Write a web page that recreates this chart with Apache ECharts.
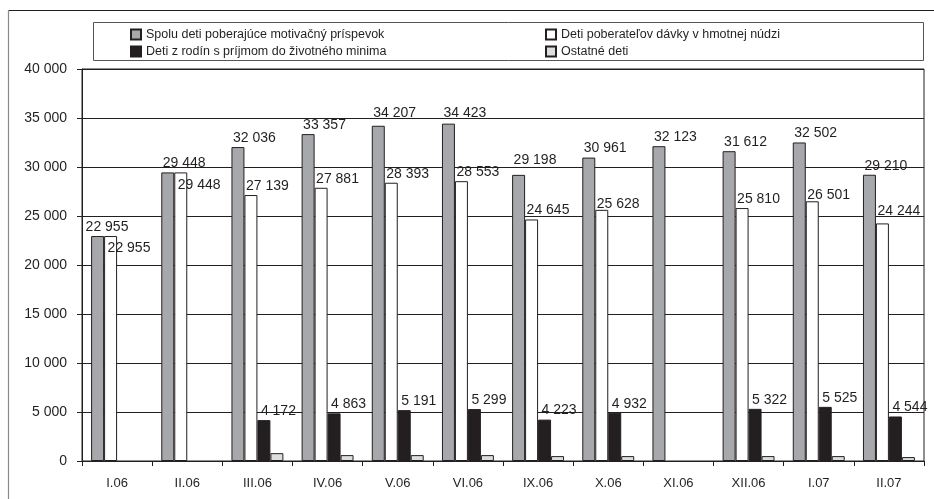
<!DOCTYPE html>
<html>
<head>
<meta charset="utf-8">
<script src="https://cdn.jsdelivr.net/npm/echarts@6/dist/echarts.min.js"></script>
<style>
  html, body { margin: 0; padding: 0; background: #fff; }
  #chart { width: 934px; height: 499px; }
</style>
</head>
<body>
<div id="chart"></div>
<script>
// Months on the category axis
const months = ['I.06', 'II.06', 'III.06', 'IV.06', 'V.06', 'VI.06', 'IX.06', 'X.06', 'XI.06', 'XII.06', 'I.07', 'II.07'];

// Series names
const nameTotal = 'Spolu deti poberajúce motivačný príspevok';
const nameNeed = 'Deti poberateľov dávky v hmotnej núdzi';
const nameMinimum = 'Deti z rodín s príjmom do životného minima';
const nameOther = 'Ostatné deti';

// Values per month (null = not reported)
const totalChildren = [22955, 29448, 32036, 33357, 34207, 34423, 29198, 30961, 32123, 31612, 32502, 29210];
const needChildren = [22955, 29448, 27139, 27881, 28393, 28553, 24645, 25628, null, 25810, 26501, 24244];
const minimumChildren = [null, null, 4172, 4863, 5191, 5299, 4223, 4932, null, 5322, 5525, 4544];
const otherChildren = [null, null, 800, 600, 600, 600, 500, 500, null, 500, 500, 400];

// Y axis ticks
const yMin = 0, yMax = 40000, yStep = 5000;

const ink = '#231f20';
const fontFamily = '"Liberation Sans", Arial, Helvetica, sans-serif';

function fmt(v) {
  return String(v).replace(/\B(?=(\d{3})+(?!\d))/g, ' ');
}

// Label offsets for crowded spots (index -> [dx, dy])
const totalLabelShift = { 0: [-12, 0], 4: [-5, -4], 5: [-5, -2], 6: [-5, -6] };
const needLabelShift = { 0: [-3, 21], 1: [-3, 22], 7: [-5, 3], 10: [-5, 3], 11: [-5, -3] };

function withLabels(values, shifts) {
  return values.map((v, i) => {
    if (v == null) return '-';
    const item = { value: v };
    if (shifts && shifts[i]) item.label = { offset: shifts[i] };
    return item;
  });
}

const valueLabel = {
  show: true,
  position: 'top',
  align: 'left',
  distance: 2,
  offset: [-5, 0],
  color: ink,
  fontSize: 14,
  fontFamily: fontFamily,
  formatter: p => fmt(p.value)
};

const barBorder = { borderColor: ink, borderWidth: 1 };

const legendCommon = {
  orient: 'vertical',
  top: 28,
  padding: 0,
  itemWidth: 10, itemHeight: 10, itemGap: 4,
  icon: 'rect',
  textStyle: { fontSize: 12.5, color: ink, fontFamily: fontFamily }
};

const chart = echarts.init(document.getElementById('chart'), null, { renderer: 'canvas' });

chart.setOption({
  animation: false,
  backgroundColor: '#fff',
  textStyle: { fontFamily: fontFamily },
  graphic: [
    // outer frame
    { type: 'line', shape: { x1: 8, y1: 10.5, x2: 934, y2: 10.5 }, style: { stroke: ink, lineWidth: 1.2 }, z: 0 },
    { type: 'line', shape: { x1: 8.5, y1: 10, x2: 8.5, y2: 499 }, style: { stroke: '#8a8a8a', lineWidth: 1.2 }, z: 0 },
    // legend frame
    { type: 'rect', shape: { x: 93.5, y: 22.5, width: 830, height: 38 }, style: { fill: 'none', stroke: '#555', lineWidth: 1 }, z: 0 }
  ],
  legend: [
    Object.assign({ data: [nameTotal, nameMinimum], left: 130 }, legendCommon),
    Object.assign({ data: [nameNeed, nameOther], left: 545 }, legendCommon)
  ],
  grid: {
    left: 82, right: 10, top: 69, bottom: 38,
    show: true, borderColor: ink, borderWidth: 1,
    containLabel: false
  },
  xAxis: {
    type: 'category',
    data: months,
    axisLine: { show: true, lineStyle: { color: ink, width: 1 } },
    axisTick: { show: true, length: 5, inside: false, alignWithLabel: false, lineStyle: { color: ink } },
    axisLabel: { color: ink, fontSize: 13, margin: 16, fontFamily: fontFamily },
    splitLine: { show: false }
  },
  yAxis: {
    type: 'value',
    min: yMin, max: yMax, interval: yStep,
    axisLine: { show: true, lineStyle: { color: ink, width: 1 } },
    axisTick: { show: true, length: 5, inside: false, lineStyle: { color: ink } },
    axisLabel: { color: ink, fontSize: 14, margin: 15, fontFamily: fontFamily, formatter: v => fmt(v) },
    splitLine: { show: true, lineStyle: { color: ink, width: 1 } }
  },
  series: [
    {
      name: nameTotal, type: 'bar',
      data: withLabels(totalChildren, totalLabelShift),
      barGap: '0%', barCategoryGap: '26%',
      itemStyle: Object.assign({ color: '#a7a8ab' }, barBorder),
      label: valueLabel
    },
    {
      name: nameNeed, type: 'bar',
      data: withLabels(needChildren, needLabelShift),
      barGap: '0%', barCategoryGap: '26%',
      itemStyle: Object.assign({ color: '#ffffff' }, barBorder),
      label: valueLabel
    },
    {
      name: nameMinimum, type: 'bar',
      data: withLabels(minimumChildren, null),
      barGap: '0%', barCategoryGap: '26%',
      itemStyle: Object.assign({ color: '#231f20' }, barBorder),
      label: Object.assign({}, valueLabel, { offset: [-3, 0] })
    },
    {
      name: nameOther, type: 'bar',
      data: otherChildren.map(v => v == null ? '-' : v),
      barGap: '0%', barCategoryGap: '26%',
      itemStyle: Object.assign({ color: '#dcdddf' }, barBorder)
    }
  ]
});
</script>
</body>
</html>
